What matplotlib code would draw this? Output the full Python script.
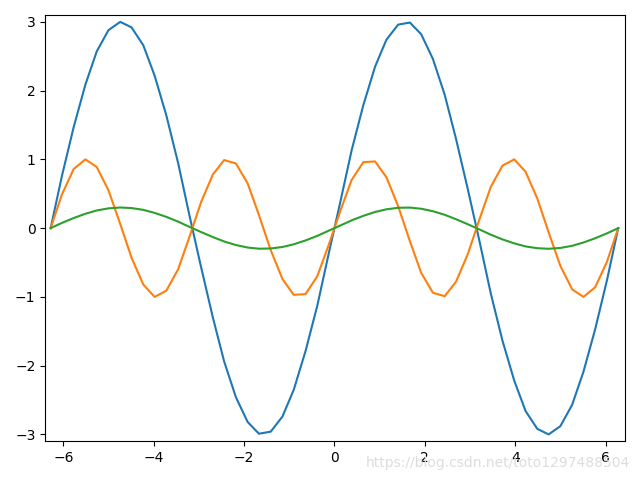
import matplotlib
matplotlib.use('Agg')
import matplotlib.pyplot as plt

# values (50 samples from -2pi to 2pi)
x_left = [-6.28, -6.03, -5.77, -5.51, -5.26, -5.00, -4.74, -4.49, -4.23, -3.98,
          -3.72, -3.46, -3.21, -2.95, -2.69, -2.44, -2.18, -1.92, -1.67, -1.41,
          -1.15, -0.90, -0.64, -0.38, -0.13]
x_vals = x_left + [-v for v in reversed(x_left)]

blue_vals = [0, 0.76, 1.47, 2.09, 2.57, 2.88, 3.00, 2.92, 2.66, 2.22,
             1.64, 0.95, 0.19, -0.57, -1.30, -1.94, -2.46, -2.82, -2.99, -2.96,
             -2.74, -2.35, -1.79, -1.13, -0.38,
             0.38, 1.13, 1.79, 2.35, 2.74, 2.96, 2.99, 2.82, 2.46, 1.94,
             1.30, 0.57, -0.19, -0.95, -1.64, -2.22, -2.66, -2.92, -3.00, -2.88,
             -2.57, -2.09, -1.47, -0.76, 0]

orange_vals = [0, 0.49, 0.86, 1.00, 0.89, 0.55, 0.06, -0.43, -0.82, -1.00,
               -0.91, -0.60, -0.13, 0.38, 0.78, 0.99, 0.94, 0.65, 0.19, -0.32,
               -0.74, -0.97, -0.96, -0.70, -0.25,
               0.25, 0.70, 0.96, 0.97, 0.74, 0.32, -0.19, -0.65, -0.94, -0.99,
               -0.78, -0.38, 0.13, 0.60, 0.91, 1.00, 0.82, 0.43, -0.06, -0.55,
               -0.89, -1.00, -0.86, -0.49, 0]

green_vals = [0, 0.076, 0.147, 0.209, 0.257, 0.288, 0.300, 0.292, 0.266, 0.222,
              0.164, 0.095, 0.019, -0.057, -0.130, -0.194, -0.246, -0.282, -0.299, -0.296,
              -0.274, -0.235, -0.179, -0.113, -0.038,
              0.038, 0.113, 0.179, 0.235, 0.274, 0.296, 0.299, 0.282, 0.246, 0.194,
              0.130, 0.057, -0.019, -0.095, -0.164, -0.222, -0.266, -0.292, -0.300, -0.288,
              -0.257, -0.209, -0.147, -0.076, 0]

fig, ax = plt.subplots(figsize=(6.4, 4.8), dpi=100)
ax.plot(x_vals, blue_vals)
ax.plot(x_vals, orange_vals)
ax.plot(x_vals, green_vals)
ax.set_xlim(-6.4, 6.43)
ax.set_ylim(-3.1, 3.1)
plt.tight_layout()
fig.text(0.985, 0.035, 'https://blog.csdn.net/toto1297488504', ha='right', va='center',
         fontsize=10, color='#dddddd')
plt.savefig('out.png')
